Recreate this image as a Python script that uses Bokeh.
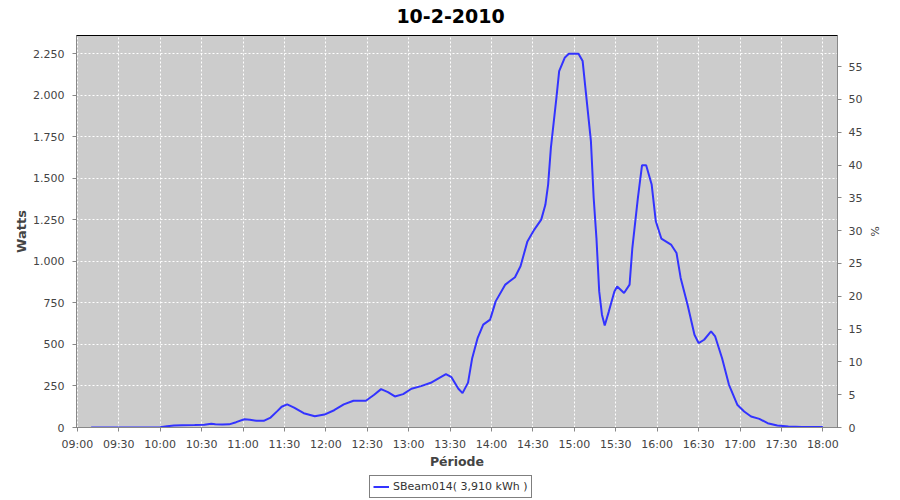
import pandas as pd
from bokeh.plotting import figure
from bokeh.layouts import column
from bokeh.models import (Range1d, LinearAxis, FixedTicker, CustomJSTickFormatter, Label,
                          DatetimeTickFormatter, Legend, LegendItem, ColumnDataSource)
from bokeh.embed import file_html
from bokeh.resources import INLINE

DATE = "2010-02-10"
title_text = "10-2-2010"
series_name = "SBeam014( 3,910 kWh )"

times = ["09:10", "09:30", "09:45", "10:00", "10:05", "10:10", "10:16", "10:25", "10:32", "10:37",
         "10:40", "10:45", "10:50", "10:55", "11:01", "11:05", "11:10", "11:15", "11:20", "11:25",
         "11:28", "11:32", "11:37", "11:44", "11:52", "11:59", "12:06", "12:13", "12:20", "12:29",
         "12:35", "12:40", "12:45", "12:50", "12:56", "13:02", "13:09", "13:16", "13:21", "13:27",
         "13:31", "13:36", "13:39", "13:43", "13:46", "13:50", "13:54", "13:59", "14:03", "14:10",
         "14:17", "14:21", "14:26", "14:31", "14:36", "14:39", "14:41", "14:43", "14:47", "14:49",
         "14:53", "14:56", "15:03", "15:06", "15:08", "15:12", "15:14", "15:16", "15:18", "15:20",
         "15:22", "15:25", "15:29", "15:31", "15:36", "15:40", "15:42", "15:46", "15:49", "15:52",
         "15:56", "15:59", "16:03", "16:10", "16:14", "16:17", "16:22", "16:27", "16:30", "16:34",
         "16:39", "16:42", "16:47", "16:52", "16:58", "17:03", "17:08", "17:14", "17:20", "17:27",
         "17:35", "17:45", "18:00"]
watts = [0, 0, 0, 2, 8, 12, 14, 15, 16, 22,
         20, 18, 19, 32, 50, 46, 40, 40, 60, 100,
         125, 139, 120, 86, 68, 78, 104, 139, 161, 161,
         197, 231, 213, 187, 201, 233, 249, 269, 293, 321,
         303, 233, 207, 270, 417, 540, 619, 649, 759, 860,
         904, 970, 1120, 1191, 1251, 1340, 1462, 1683, 1984, 2144,
         2225, 2249, 2249, 2205, 2044, 1723, 1381, 1140, 819, 679,
         614, 699, 819, 849, 809, 860, 1080, 1381, 1578, 1578,
         1462, 1241, 1137, 1101, 1050, 900, 739, 558, 508, 528,
         578, 548, 417, 257, 137, 96, 66, 52, 26, 12,
         6, 3, 3]

x_tick_labels = ["09:00", "09:30", "10:00", "10:30", "11:00", "11:30", "12:00", "12:30", "13:00",
                 "13:30", "14:00", "14:30", "15:00", "15:30", "16:00", "16:30", "17:00", "17:30", "18:00"]
left_ticks = [0, 250, 500, 750, 1000, 1250, 1500, 1750, 2000, 2250]
right_ticks = [0, 5, 10, 15, 20, 25, 30, 35, 40, 45, 50, 55]

t = pd.to_datetime([f"{DATE} {s}" for s in times])
src = ColumnDataSource(dict(t=t, w=watts))

FONT = "DejaVu Sans"
TICK_COLOR = "#444444"
AXIS_COLOR = "#888888"
LINE_COLOR = "#3333FF"


def strip(height):
    s = figure(width=900, height=height, output_backend="svg", toolbar_location=None,
               x_axis_location=None, y_axis_location=None, min_border=0,
               x_range=Range1d(0, 1), y_range=Range1d(0, 1))
    s.outline_line_color = None
    s.grid.visible = False
    s.background_fill_color = "white"
    return s


# title strip above the chart
p0 = strip(35)
p0.add_layout(Label(x=0.4915, y=0.57, text=title_text, text_align="center",
                    text_baseline="alphabetic", text_font=FONT, text_font_size="19px",
                    text_font_style="bold", text_color="black"))

p = figure(width=900, height=439, x_axis_type="datetime", output_backend="svg",
           toolbar_location=None,
           x_range=Range1d(start=pd.Timestamp(f"{DATE} 08:59:24"), end=pd.Timestamp(f"{DATE} 18:10:36")),
           y_range=Range1d(0, 2359),
           min_border_left=76, min_border_right=63, min_border_top=0, min_border_bottom=47)

p.background_fill_color = "#CCCCCC"
p.border_fill_color = "white"
p.outline_line_color = "black"
p.outline_line_width = 1

r = p.line("t", "w", source=src, line_color=LINE_COLOR, line_width=2)

xt = FixedTicker(ticks=[pd.Timestamp(f"{DATE} {s}").value // 10**6 for s in x_tick_labels])
xa = p.xaxis[0]
xa.ticker = xt
xa.formatter = DatetimeTickFormatter(minutes="%H:%M", hourmin="%H:%M", hours="%H:%M")
xa.axis_label = "Période"

ya = p.yaxis[0]
ya.ticker = FixedTicker(ticks=left_ticks)
ya.formatter = CustomJSTickFormatter(code="return tick.toFixed(0).replace(/\\B(?=(\\d{3})+(?!\\d))/g, '.');")
ya.axis_label = "Watts"

p.extra_y_ranges = {"pct": Range1d(0, 59.74)}
ra = LinearAxis(y_range_name="pct", axis_label="%", ticker=FixedTicker(ticks=right_ticks))
p.add_layout(ra, "right")

for ax in (xa, ya, ra):
    ax.axis_line_color = AXIS_COLOR
    ax.major_tick_line_color = AXIS_COLOR
    ax.minor_tick_line_color = None
    ax.major_tick_in = 0
    ax.major_tick_out = 4
    ax.major_label_text_font = FONT
    ax.major_label_text_font_size = "11px"
    ax.major_label_text_color = TICK_COLOR
    ax.axis_label_text_font = FONT
    ax.axis_label_text_color = TICK_COLOR
    ax.axis_label_text_font_size = "13px"
    ax.axis_label_text_font_style = "bold"

xa.major_label_standoff = 6
xa.axis_label_standoff = 0
xa.axis_label_text_font_size = "12.5px"
ya.major_label_standoff = 8
ya.axis_label_standoff = 1
ra.major_label_standoff = 7
ra.axis_label_standoff = 3
ra.axis_label_text_font_style = "normal"
ra.axis_label_text_font_size = "11px"

p.xgrid.ticker = xt
p.ygrid.ticker = FixedTicker(ticks=left_ticks)
p.grid.grid_line_color = "white"
p.grid.grid_line_dash = "2 2"
p.grid.grid_line_width = 1

# legend strip below the chart
p2 = strip(26)
lr = p2.line(x=[-1, -1], y=[-1, -1], line_color=LINE_COLOR, line_width=2)

legend = Legend(items=[LegendItem(label=series_name, renderers=[lr])], location=(293, 2),
                orientation="horizontal")
legend.border_line_color = "black"
legend.border_line_width = 1
legend.background_fill_color = "white"
legend.background_fill_alpha = 1
legend.label_text_font = FONT
legend.label_text_font_size = "11px"
legend.label_text_color = "#333333"
legend.padding = 3
legend.spacing = 0
legend.margin = 0
legend.glyph_width = 16
legend.glyph_height = 15
legend.label_height = 15
legend.label_standoff = 4
p2.add_layout(legend, "center")

open("out.html", "w").write(file_html(column(p0, p, p2, spacing=0), INLINE))
